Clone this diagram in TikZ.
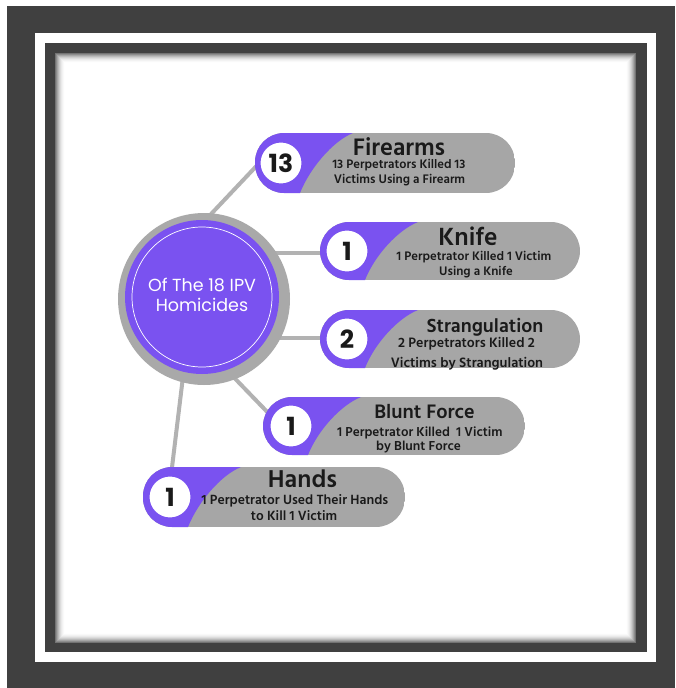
\documentclass[tikz,border=0pt]{standalone}
\usepackage{fontspec}
\setmainfont{Poppins}
\newfontfamily\hindfont{Hind Siliguri}
\newfontfamily\popfont{Poppins}
\definecolor{framedark}{HTML}{404040}
\definecolor{mainpurple}{HTML}{7A52F0}
\definecolor{pillgray}{HTML}{A6A6A6}
\definecolor{ringgray}{HTML}{A9A9A9}
\definecolor{linegray}{HTML}{B2B2B2}
\definecolor{txtdark}{HTML}{1A1A1A}
\newcommand{\mypillshape}[4]{%
  \begin{scope}
    \clip[rounded corners=29pt] (#1,#2) rectangle (#3,#4);
    \fill[pillgray] (#1,#2) rectangle (#3,#4);
    \fill[mainpurple] (#1,#2) -- ({#1+98},#2) .. controls ({#1+78},{#2+8}) and ({#1+55},{#4-25}) .. ({#1+45},#4) -- (#1,#4) -- cycle;
  \end{scope}}
\tikzset{
  conn/.style={draw=linegray, line width=4pt},
  numcirc/.style={circle, fill=white, draw=mainpurple, line width=3pt, minimum size=44pt, inner sep=0pt, text=txtdark, font=\popfont\bfseries\fontsize{25}{25}\selectfont},
  ptitle/.style={anchor=base, inner sep=0pt, text=txtdark},
  psub/.style={anchor=base, inner sep=0pt, text=txtdark},
  ctxt/.style={anchor=base, inner sep=0pt, text=white, font=\popfont\fontsize{17.5}{20}\selectfont},
}
\begin{document}
\begin{tikzpicture}[x=1pt,y=-1pt]
\useasboundingbox (0,0) rectangle (675,688);
% frame
\fill[white] (0,0) rectangle (675,688);
\fill[framedark] (7,6) rectangle (675,688);
\fill[white] (35,33) rectangle (656,662);
\fill[framedark] (45,43) rectangle (647,652);
\fill[white] (55,53) rectangle (636,643);
\foreach \i in {0,...,9} {
  \pgfmathsetmacro\sh{55*(1-\i/10)^2}
  \draw[line width=1.05pt, color=black!\sh] ({55+\i+0.5},{53+\i+0.5}) rectangle ({636-\i-0.5},{643-\i-0.5});
}
% connector end points
\coordinate (f1) at (196,230); \coordinate (f2) at (264,158);
\coordinate (k1) at (250,253); \coordinate (k2) at (330,253);
\coordinate (s1) at (250,338); \coordinate (s2) at (330,338);
\coordinate (b1) at (220,363); \coordinate (b2) at (275,420);
\coordinate (h1) at (185,360); \coordinate (h2) at (170,484);
\draw[conn] (f1) -- (f2);
\draw[conn] (k1) -- (k2);
\draw[conn] (s1) -- (s2);
\draw[conn] (b1) -- (b2);
\draw[conn] (h1) -- (h2);
% centre circle
\node[circle, fill=ringgray, minimum size=172pt, inner sep=0pt] (ring) at (204,299) {};
\node[circle, fill=mainpurple, minimum size=154pt, inner sep=0pt] (cc) at (202,297) {};
\draw[white, line width=0.7pt] (cc.center) circle (70);
\node[ctxt] (ct1) at (202,291.7) {Of The 18 IPV};
\node[ctxt] (ct2) at (202,311.7) {Homicides};
% Firearms
\mypillshape{255}{133}{515}{193}
\node[numcirc] (n1) at (281,163) {13};
\node[ptitle, font=\hindfont\bfseries\fontsize{24.5}{24.5}\selectfont] (t1) at (399,155) {Firearms};
\node[psub, font=\hindfont\bfseries\fontsize{12.7}{14}\selectfont] (d1a) at (399,168.3) {13 Perpetrators Killed 13};
\node[psub, font=\hindfont\bfseries\fontsize{12.7}{14}\selectfont] (d1b) at (399.5,183.3) {Victims Using a Firearm};
% Knife
\mypillshape{320}{222}{580}{280}
\node[numcirc] (n2) at (347,251) {1};
\node[ptitle, font=\hindfont\bfseries\fontsize{25.5}{25.5}\selectfont] (t2) at (468,245.7) {Knife};
\node[psub, font=\hindfont\bfseries\fontsize{12.7}{14}\selectfont] (d2a) at (474,260) {1 Perpetrator Killed 1 Victim};
\node[psub, font=\hindfont\bfseries\fontsize{12.7}{14}\selectfont] (d2b) at (476,275.7) {Using a Knife};
% Strangulation
\mypillshape{320}{310}{580}{368}
\node[numcirc] (n3) at (347,339) {2};
\node[ptitle, font=\hindfont\bfseries\fontsize{19.5}{19.5}\selectfont] (t3) at (485,332.7) {Strangulation};
\node[psub, font=\hindfont\bfseries\fontsize{14}{15}\selectfont] (d3a) at (466.5,347.3) {2 Perpetrators Killed 2};
\node[psub, font=\hindfont\bfseries\fontsize{14}{15}\selectfont] (d3b) at (467,367) {Victims by Strangulation};
% Blunt Force
\mypillshape{263}{397}{525}{455}
\node[numcirc] (n4) at (291,426) {1};
\node[ptitle, font=\hindfont\bfseries\fontsize{20}{20}\selectfont] (t4) at (424.5,418.3) {Blunt Force};
\node[psub, font=\hindfont\bfseries\fontsize{13.3}{14}\selectfont] (d4a) at (420,436) {1 Perpetrator Killed\ \ 1 Victim};
\node[psub, font=\hindfont\bfseries\fontsize{13.3}{14}\selectfont] (d4b) at (418.5,450) {by Blunt Force};
% Hands
\mypillshape{143}{467}{405}{527}
\node[numcirc] (n5) at (170,497) {1};
\node[ptitle, font=\hindfont\bfseries\fontsize{25}{25}\selectfont] (t5) at (302.5,487.3) {Hands};
\node[psub, font=\hindfont\bfseries\fontsize{13.7}{14}\selectfont] (d5a) at (295,504) {1 Perpetrator Used Their Hands};
\node[psub, font=\hindfont\bfseries\fontsize{13.7}{14}\selectfont] (d5b) at (294,520) {to Kill 1 Victim};
\end{tikzpicture}
\end{document}
